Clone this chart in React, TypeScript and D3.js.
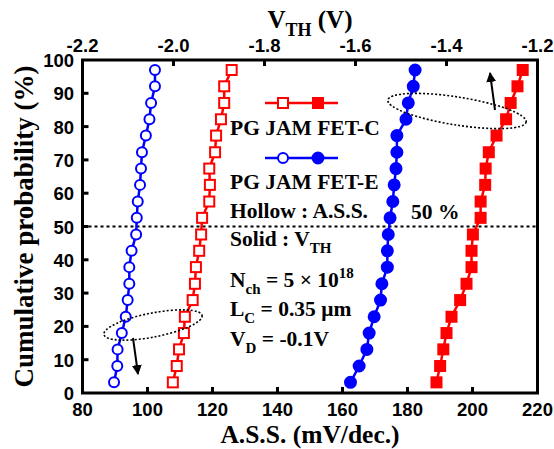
import React from "react";
import * as d3 from "d3";

const probs = [3.2, 8.1, 13.1, 18.0, 22.9, 27.9, 32.8, 37.8, 42.7, 47.6, 52.6, 57.5, 62.5, 67.4, 72.3, 77.3, 82.2, 87.1, 92.1, 97.0];
const assC = [107.8, 109.0, 109.7, 111.2, 111.5, 113.9, 114.6, 114.9, 115.9, 116.5, 116.8, 119.0, 119.2, 119.0, 120.8, 121.1, 122.6, 123.6, 123.6, 125.9];
const assE = [89.7, 90.7, 90.8, 92.1, 93.3, 93.9, 94.4, 94.4, 95.1, 96.5, 96.7, 97.0, 97.7, 98.0, 98.3, 99.5, 100.6, 101.1, 102.3, 102.3];
const vthC = [-1.422, -1.414, -1.407, -1.4, -1.389, -1.37, -1.356, -1.345, -1.345, -1.342, -1.325, -1.325, -1.315, -1.314, -1.307, -1.29, -1.269, -1.259, -1.244, -1.2325];
const vthE = [-1.611, -1.592, -1.575, -1.57, -1.559, -1.545, -1.542, -1.53, -1.53, -1.528, -1.524, -1.518, -1.515, -1.511, -1.509, -1.509, -1.489, -1.484, -1.473, -1.469];
const xTicks = [80, 100, 120, 140, 160, 180, 200, 220];
const topTicks = [-2.2, -2.0, -1.8, -1.6, -1.4, -1.2];
const yTicks = [0, 10, 20, 30, 40, 50, 60, 70, 80, 90, 100];

const RED = "#ff0000";
const BLUE = "#0000ff";
const SERIF = "'Liberation Serif', 'Times New Roman', serif";
const SANS = "'Liberation Sans', Arial, sans-serif";

export default function App() {
  const L = 82.5, R = 537.5, T = 60, B = 393;
  const x = d3.scaleLinear().domain([80, 220]).range([L, R]);
  const xt = d3.scaleLinear().domain([-2.2, -1.2]).range([L, R]);
  const y = d3.scaleLinear().domain([0, 100]).range([B, T]);
  const line = d3.line<[number, number]>().x((d) => d[0]).y((d) => d[1]);

  const series = [
    { xs: assE.map((v) => x(v)), color: BLUE, shape: "circle", filled: false },
    { xs: assC.map((v) => x(v)), color: RED, shape: "square", filled: false },
    { xs: vthE.map((v) => xt(v)), color: BLUE, shape: "circle", filled: true },
    { xs: vthC.map((v) => xt(v)), color: RED, shape: "square", filled: true },
  ];

  const marker = (cx: number, cy: number, shape: string, color: string, filled: boolean, key: any) =>
    shape === "circle" ? (
      <circle key={key} cx={cx} cy={cy} r={filled ? 5.5 : 5} fill={filled ? color : "white"} stroke={color} strokeWidth={2} />
    ) : (
      <rect key={key} x={cx - 5} y={cy - 5} width={10} height={10} fill={filled ? color : "white"} stroke={color} strokeWidth={2} />
    );

  const textStyle = { fontFamily: SERIF, fontWeight: "bold", fontSize: 21.5 } as const;

  return (
    <svg width={554} height={449} style={{ position: "absolute", left: 0, top: 0 }}>
      <defs>
        <marker id="ah" viewBox="0 0 10 10" refX="9" refY="5" markerWidth="5" markerHeight="5" orient="auto">
          <path d="M0,0 L10,5 L0,10 z" fill="black" />
        </marker>
      </defs>
      {/* 50% line */}
      <line x1={L} x2={R} y1={y(50)} y2={y(50)} stroke="black" strokeWidth={2} strokeDasharray="3,3" />

      {/* series */}
      {series.map((s, i) => (
        <g key={i}>
          <path d={line(s.xs.map((px, j) => [px, y(probs[j])]) as any) || ""} fill="none" stroke={s.color} strokeWidth={2.5} />
          {s.xs.map((px, j) => marker(px, y(probs[j]), s.shape, s.color, s.filled, j))}
        </g>
      ))}

      {/* ellipses and arrows */}
      <ellipse cx={153} cy={325} rx={50} ry={12} transform="rotate(-11 153 325)" fill="none" stroke="black" strokeWidth={1.6} strokeDasharray="2,2" />
      <line x1={133} y1={338} x2={138} y2={374} stroke="black" strokeWidth={2} markerEnd="url(#ah)" />
      <ellipse cx={457} cy={111} rx={70} ry={14} transform="rotate(9 457 111)" fill="none" stroke="black" strokeWidth={1.6} strokeDasharray="2,2" />
      <line x1={495} y1={110} x2={490} y2={73} stroke="black" strokeWidth={2} markerEnd="url(#ah)" />

      {/* legend */}
      <line x1={265} x2={338} y1={103} y2={103} stroke={RED} strokeWidth={2.5} />
      {marker(283, 103, "square", RED, false, "l1")}
      {marker(318, 103, "square", RED, true, "l2")}
      <line x1={265} x2={338} y1={158} y2={158} stroke={BLUE} strokeWidth={2.5} />
      {marker(283, 158, "circle", BLUE, false, "l3")}
      {marker(318, 158, "circle", BLUE, true, "l4")}
      <text x={230} y={135} style={textStyle}>PG JAM FET-C</text>
      <text x={230} y={189} style={textStyle}>PG JAM FET-E</text>
      <text x={230} y={218} style={textStyle}>Hollow : A.S.S.</text>
      <text x={411} y={219} style={textStyle}>50 %</text>
      <text x={230} y={246} style={textStyle}>
        Solid : V<tspan dy={7} fontSize={15}>TH</tspan>
      </text>
      <text x={230} y={287} style={textStyle}>
        N<tspan dy={7} fontSize={15}>ch</tspan><tspan dy={-7}> = 5 × 10</tspan><tspan dy={-9} fontSize={15}>18</tspan>
      </text>
      <text x={230} y={316} style={textStyle}>
        L<tspan dy={7} fontSize={15}>C</tspan><tspan dy={-7}> = 0.35 μm</tspan>
      </text>
      <text x={230} y={346} style={textStyle}>
        V<tspan dy={7} fontSize={15}>D</tspan><tspan dy={-7}> = -0.1V</tspan>
      </text>

      {/* frame */}
      <rect x={L} y={T} width={R - L} height={B - T} fill="none" stroke="black" strokeWidth={3} />

      {/* bottom ticks */}
      {xTicks.map((t) => (
        <g key={"b" + t}>
          {t > 80 && t < 220 && <line x1={x(t)} x2={x(t)} y1={B} y2={B - 6} stroke="black" strokeWidth={3} />}
          <text x={x(t)} y={416} textAnchor="middle" fontFamily={SANS} fontWeight="bold" fontSize={18.5}>{t}</text>
        </g>
      ))}
      {/* top ticks */}
      {topTicks.map((t) => (
        <g key={"t" + t}>
          {t > -2.2 && t < -1.2 && <line x1={xt(t)} x2={xt(t)} y1={T} y2={T + 6} stroke="black" strokeWidth={3} />}
          <text x={xt(t)} y={52} textAnchor="middle" fontFamily={SANS} fontWeight="bold" fontSize={18.5}>{t.toFixed(1)}</text>
        </g>
      ))}
      {/* left ticks */}
      {yTicks.map((t) => (
        <g key={"y" + t}>
          {t > 0 && t < 100 && <line x1={L} x2={L + 6} y1={y(t)} y2={y(t)} stroke="black" strokeWidth={3} />}
          <text x={74} y={y(t) + 7} textAnchor="end" fontFamily={SANS} fontWeight="bold" fontSize={18.5}>{t}</text>
        </g>
      ))}

      {/* axis titles */}
      <text x={310} y={443} textAnchor="middle" fontFamily={SERIF} fontWeight="bold" fontSize={25.5}>A.S.S. (mV/dec.)</text>
      <text x={310} y={28} textAnchor="middle" fontFamily={SERIF} fontWeight="bold" fontSize={25}>
        V<tspan dy={8} fontSize={18}>TH</tspan><tspan dy={-8}> (V)</tspan>
      </text>
      <text transform={`translate(33,${(T + B) / 2}) rotate(-90)`} textAnchor="middle" fontFamily={SERIF} fontWeight="bold" fontSize={27}>
        Cumulative probability (%)
      </text>
    </svg>
  );
}
